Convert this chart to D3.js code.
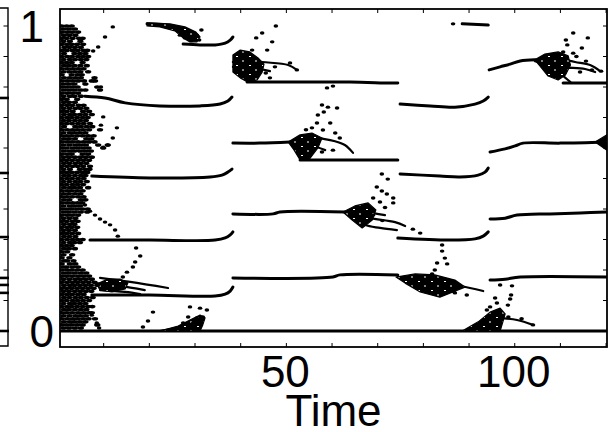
<!DOCTYPE html>
<html>
<head>
<meta charset="utf-8">
<script src="https://cdn.jsdelivr.net/npm/d3@7"></script>
<style>
  html, body { margin: 0; padding: 0; background: #fff; }
  svg { display: block; }
</style>
</head>
<body>
<svg id="chart" width="610" height="432"></svg>
<script>
// ---- axis definitions ----
const xTickValues = [10, 20, 30, 40, 50, 60, 70, 80, 90, 100, 110, 120];
const xTickLabels = [50, 100];
const yTickValues = [0, 0.1, 0.2, 0.3, 0.4, 0.5, 0.6, 0.7, 0.8, 0.9, 1.0];
const yTickLabels = [0, 1];
const xTitle = "Time";

// levels shown at the right edge of the neighbouring panel
const sideLevels = [0.764, 0.518, 0.308, 0.174, 0.151, 0.125, 0.0];

// ---- stable branches [time, value] ----
const branches = [
  [[0.6, 0.0], [120.2, 0.0]],
  // first epoch
  [[7.4, 0.118], [20.1, 0.118], [34.4, 0.115], [36.6, 0.121], [37.7, 0.131], [38.3, 0.144]],
  [[7.0, 0.298], [20.1, 0.298], [34.4, 0.298], [36.6, 0.305], [37.7, 0.315], [38.3, 0.325]],
  [[7.4, 0.508], [20.1, 0.502], [33.3, 0.505], [35.9, 0.511], [37.2, 0.521], [38.1, 0.531]],
  [[5.9, 0.770], [10.3, 0.764], [14.7, 0.748], [22.3, 0.738], [31.1, 0.738], [35.5, 0.744], [37.2, 0.754], [38.1, 0.767]],
  [[19.5, 1.007], [23.4, 1.003], [26.3, 0.993], [28.9, 0.977], [30.4, 0.964]],
  [[27.4, 0.941], [31.1, 0.938], [34.4, 0.938], [36.6, 0.944], [37.7, 0.954], [38.3, 0.964]],
  // second epoch
  [[41.4, 0.816], [53.0, 0.816], [63.9, 0.816], [72.7, 0.813], [74.4, 0.813]],
  [[38.3, 0.616], [44.2, 0.616], [50.8, 0.620]],
  [[53.0, 0.561], [63.9, 0.561], [74.4, 0.561]],
  [[38.3, 0.384], [47.1, 0.384], [48.6, 0.390], [62.8, 0.390]],
  [[38.3, 0.174], [60.2, 0.177], [61.7, 0.184], [74.4, 0.184]],
  // third epoch
  [[88.5, 1.007], [94.2, 1.003]],
  [[74.9, 0.744], [81.5, 0.738], [86.9, 0.734], [91.3, 0.744], [93.1, 0.754], [94.2, 0.767]],
  [[74.9, 0.515], [83.6, 0.508], [88.0, 0.505], [92.0, 0.511], [93.5, 0.521], [94.2, 0.534]],
  [[74.4, 0.305], [85.8, 0.298], [91.3, 0.302], [93.1, 0.311], [94.2, 0.325]],
  // fourth epoch
  [[94.4, 0.856], [96.8, 0.866], [99.0, 0.875], [101.2, 0.885], [104.4, 0.889]],
  [[110.6, 0.813], [120.2, 0.813]],
  [[94.6, 0.587], [97.9, 0.597], [100.1, 0.607], [101.8, 0.616], [110.0, 0.616], [120.2, 0.620]],
  [[94.6, 0.367], [97.9, 0.370], [100.5, 0.380], [107.7, 0.384], [114.3, 0.387], [120.2, 0.390]],
  [[94.6, 0.167], [97.9, 0.170], [101.2, 0.177], [120.2, 0.177]]
];

// ---- dense cores where a branch loses stability (outlines) ----
const clusterCores = [
  [[19.5, 1.010], [24.5, 1.007], [27.8, 0.997], [30.2, 0.980], [31.1, 0.964], [30.4, 0.948], [28.9, 0.948], [27.4, 0.961], [25.6, 0.984], [22.3, 0.997], [19.5, 1.000]],
  [[8.5, 0.154], [10.9, 0.170], [13.6, 0.170], [15.3, 0.157], [14.7, 0.138], [11.8, 0.128], [9.2, 0.134]],
  [[22.3, 0.0], [26.3, 0.016], [28.9, 0.036], [31.1, 0.052], [32.2, 0.043], [31.7, 0.020], [31.1, 0.0]],
  [[38.3, 0.905], [39.9, 0.921], [42.0, 0.915], [43.8, 0.895], [45.1, 0.875], [44.7, 0.849], [43.6, 0.823], [41.6, 0.816], [39.9, 0.830], [38.3, 0.849]],
  [[50.4, 0.620], [53.0, 0.643], [55.6, 0.649], [57.8, 0.633], [56.9, 0.600], [55.2, 0.567], [53.0, 0.561], [51.7, 0.593]],
  [[62.4, 0.390], [65.0, 0.410], [67.9, 0.420], [69.6, 0.397], [68.8, 0.364], [66.6, 0.338], [64.4, 0.364]],
  [[74.0, 0.177], [78.2, 0.187], [82.5, 0.184], [86.9, 0.167], [89.1, 0.144], [83.6, 0.111], [79.3, 0.128], [76.0, 0.157]],
  [[88.5, 0.0], [92.0, 0.030], [94.6, 0.062], [96.8, 0.075], [97.9, 0.056], [97.4, 0.030], [96.8, 0.0]],
  [[104.4, 0.889], [106.6, 0.908], [109.5, 0.915], [111.7, 0.902], [112.2, 0.872], [111.1, 0.839], [109.5, 0.823], [107.3, 0.836], [105.5, 0.869]],
  [[117.6, 0.620], [120.2, 0.643], [120.2, 0.593]]
];

// ---- splitting fans leaving the cores ----
const fans = [
  // first epoch
  [[9.2, 0.174], [15.8, 0.161], [24.1, 0.141]],
  [[8.1, 0.157], [13.6, 0.148], [19.0, 0.134]],
  [[9.2, 0.134], [14.7, 0.128], [18.0, 0.121]],
  [[22.3, 0.000], [26.7, 0.013], [30.0, 0.030], [31.7, 0.043]],
  // second epoch
  [[38.3, 0.882], [41.0, 0.889], [44.7, 0.882], [50.4, 0.872], [52.3, 0.856]],
  [[38.3, 0.866], [43.1, 0.862], [46.4, 0.852]],
  [[50.8, 0.620], [55.2, 0.633], [59.6, 0.626], [62.8, 0.610], [64.6, 0.584]],
  [[50.8, 0.617], [55.2, 0.610], [58.5, 0.593]],
  [[51.9, 0.610], [53.0, 0.577], [55.2, 0.561]],
  [[62.8, 0.390], [67.2, 0.390], [71.6, 0.380]],
  [[63.3, 0.387], [68.3, 0.370], [73.8, 0.357], [76.0, 0.344]],
  [[63.9, 0.384], [67.2, 0.348], [70.5, 0.338], [74.2, 0.331]],
  // third epoch
  [[74.4, 0.177], [79.3, 0.174], [83.6, 0.161], [90.2, 0.141], [93.1, 0.131]],
  [[74.9, 0.174], [79.3, 0.151], [83.6, 0.134], [86.9, 0.128]],
  [[96.1, 0.043], [100.5, 0.036], [104.0, 0.020]],
  // fourth epoch
  [[104.4, 0.889], [108.8, 0.895], [113.2, 0.882], [116.5, 0.872], [118.7, 0.852]],
  [[104.4, 0.885], [109.8, 0.866], [115.4, 0.859], [117.6, 0.849]],
  [[105.5, 0.882], [108.8, 0.856], [111.1, 0.830], [112.2, 0.816]]
];

// ---- isolated iterates [time, value] ----
const scatterPoints = [
  // first epoch
  [12.0, 0.997], [10.3, 0.964], [8.8, 0.931], [7.7, 0.918],
  [9.4, 0.800], [9.9, 0.702], [9.4, 0.675], [12.9, 0.666], [12.0, 0.633], [10.9, 0.610], [9.9, 0.603],
  [30.4, 0.970], [31.4, 0.987], [29.2, 0.952], [30.9, 0.954], [27.8, 0.961], [26.7, 0.970],
  [5.9, 0.413], [7.0, 0.393], [8.1, 0.380], [9.2, 0.367], [10.3, 0.357], [11.4, 0.348], [12.5, 0.331], [13.1, 0.311],
  [17.1, 0.272], [18.0, 0.246], [16.9, 0.226], [16.4, 0.210], [15.1, 0.193], [14.2, 0.177],
  [20.8, 0.062], [19.7, 0.033], [18.6, 0.013],
  [28.9, 0.079], [31.1, 0.075], [32.6, 0.069], [28.5, 0.046], [30.4, 0.043], [31.7, 0.046], [27.4, 0.026], [29.6, 0.026],
  [7.4, 0.052], [8.5, 0.026], [9.0, 0.010],
  // second epoch
  [47.7, 1.000], [44.7, 0.977], [43.4, 0.961], [46.9, 0.948], [45.8, 0.921], [42.5, 0.921],
  [45.5, 0.846], [42.5, 0.849], [46.4, 0.830], [52.3, 0.856], [50.8, 0.879], [47.5, 0.866],
  [58.9, 0.797], [60.2, 0.803],
  [57.8, 0.741], [59.1, 0.734], [61.1, 0.731], [56.9, 0.708], [58.2, 0.718], [56.7, 0.682], [59.6, 0.682],
  [55.6, 0.666], [58.0, 0.659], [60.7, 0.649], [54.3, 0.660], [61.7, 0.633],
  [57.8, 0.587], [60.2, 0.593],
  [70.9, 0.515], [72.2, 0.498], [69.8, 0.472], [70.9, 0.459], [72.0, 0.449], [73.4, 0.436], [69.0, 0.436],
  [70.5, 0.423], [73.4, 0.420], [71.6, 0.405], [69.0, 0.380], [71.0, 0.362],
  [77.7, 0.334], [79.3, 0.321],
  // third epoch
  [86.5, 1.007],
  [84.1, 0.282], [84.1, 0.262], [84.7, 0.239], [85.2, 0.220], [83.0, 0.223], [82.5, 0.200], [81.9, 0.187],
  [86.9, 0.125], [89.5, 0.118],
  [96.8, 0.151], [99.4, 0.148], [99.2, 0.118], [99.0, 0.105], [98.5, 0.085], [95.7, 0.108], [96.1, 0.092],
  [93.9, 0.069], [94.6, 0.079],
  [98.6, 0.046], [101.5, 0.040], [104.0, 0.020],
  // fourth epoch
  [112.8, 0.977], [111.2, 0.954], [116.0, 0.961], [114.7, 0.928], [111.5, 0.938], [110.6, 0.915], [112.8, 0.911],
  [116.9, 0.856], [118.9, 0.852], [114.3, 0.849], [113.5, 0.900], [115.6, 0.885]
];

// ---- initial transient: rows of [value, time, time, ...] ----
const transientRows = [
  [1.00, 0.8, 1.9, 3.0], [0.99, 1.2, 2.4, 3.7], [0.98, 0.8, 2.0, 3.1, 4.4], [0.97, 1.3, 2.5, 3.8],
  [0.96, 0.8, 1.9, 3.2, 4.6, 5.4], [0.95, 1.2, 2.6, 4.9], [0.94, 0.8, 2.0, 3.0, 4.2, 5.5],
  [0.93, 1.4, 2.5, 3.7, 5.0], [0.92, 0.8, 1.9, 3.2, 4.3, 5.6, 6.4], [0.91, 1.3, 3.6, 4.8, 6.0],
  [0.90, 0.8, 2.0, 3.1, 4.4, 5.5, 6.6], [0.89, 1.2, 2.6, 3.7, 5.0, 6.2], [0.88, 0.8, 1.9, 3.0, 5.4],
  [0.87, 1.3, 2.4, 3.6, 4.9, 6.3], [0.86, 0.8, 2.0, 3.2, 4.4, 5.6], [0.85, 1.2, 2.5, 3.7, 4.9, 6.6],
  [0.84, 0.8, 3.0, 4.3, 5.2], [0.83, 1.3, 2.6, 3.8, 5.0, 8.0], [0.82, 0.8, 2.0, 3.2, 4.4, 5.7, 7.4, 8.1],
  [0.81, 1.2, 2.4, 3.6, 6.0], [0.80, 0.8, 1.9, 3.1, 4.3, 8.6], [0.79, 1.3, 2.5, 3.7, 5.0, 6.0, 9.2],
  [0.78, 0.8, 2.0, 3.2, 4.4], [0.77, 1.2, 2.6, 3.6, 5.0], [0.76, 0.8, 1.9, 4.2], [0.75, 1.3, 2.4, 3.7],
  [0.74, 0.8, 2.0, 3.1, 4.5, 5.6], [0.73, 1.2, 2.5, 3.8, 4.9, 6.2], [0.72, 0.8, 1.9, 3.2, 5.5, 6.8],
  [0.71, 1.3, 2.6, 3.6, 4.8, 6.0, 7.4], [0.70, 0.8, 2.0, 3.0, 4.2, 5.4, 6.5], [0.69, 1.2, 2.4, 3.7, 4.9, 6.1],
  [0.68, 0.8, 1.9, 3.1, 4.4, 5.6, 7.0], [0.67, 1.3, 3.8, 5.0, 6.3, 7.5], [0.66, 0.8, 2.0, 3.2, 4.3, 5.5, 6.8, 9.2],
  [0.65, 1.2, 2.6, 3.6, 4.8, 6.0], [0.64, 0.8, 1.9, 3.0, 4.2, 5.4, 6.6, 7.8], [0.63, 1.3, 2.4, 3.7, 6.2, 7.3],
  [0.62, 0.8, 2.0, 3.1, 4.4, 5.6, 6.8, 8.0], [0.61, 1.2, 2.5, 3.8, 4.9, 6.1, 8.8, 10.9], [0.60, 0.8, 1.9, 3.2, 4.3, 5.5, 6.7, 9.9],
  [0.59, 1.3, 2.6, 3.6, 4.8, 6.0, 7.2], [0.58, 0.8, 2.0, 3.0, 5.4, 6.6], [0.57, 1.2, 2.4, 3.7, 4.9, 6.1, 7.4],
  [0.56, 0.8, 1.9, 3.1, 4.4, 5.6, 6.8], [0.55, 1.3, 2.5, 3.8, 5.0, 6.2], [0.54, 0.8, 2.0, 3.2, 4.3, 5.5, 7.0],
  [0.53, 1.2, 2.6, 4.8, 6.0, 6.9], [0.52, 0.8, 1.9, 3.0, 4.2, 5.4, 6.4], [0.51, 1.3, 2.4, 3.7, 5.0, 6.0],
  [0.50, 0.8, 2.0, 3.1, 4.4, 5.6], [0.49, 1.2, 2.5, 3.8, 4.9, 6.3], [0.48, 0.8, 1.9, 3.2, 4.3, 5.5],
  [0.47, 1.3, 2.6, 3.6, 4.8, 6.6], [0.46, 0.8, 2.0, 3.0, 4.2, 5.4], [0.45, 1.2, 2.4, 3.7, 4.9],
  [0.44, 0.8, 1.9, 3.1, 4.4, 5.6], [0.43, 1.3, 2.5, 5.0, 6.0], [0.42, 0.8, 2.0, 3.2, 4.3, 5.3],
  [0.41, 1.2, 2.6, 3.6, 4.8], [0.40, 0.8, 1.9, 3.0, 4.2, 5.4, 6.5], [0.39, 1.3, 2.4, 3.7, 5.0, 6.4],
  [0.38, 0.8, 2.0, 3.1, 4.4], [0.37, 1.2, 2.5, 3.8], [0.36, 0.8, 1.9, 3.2, 4.3], [0.35, 1.3, 2.6, 3.6],
  [0.34, 0.8, 2.0, 3.0, 4.2], [0.33, 1.2, 2.4, 3.7], [0.32, 0.8, 1.9, 3.1, 4.4], [0.31, 1.3, 2.5, 3.8],
  [0.30, 0.8, 2.0, 3.2, 4.3, 5.4], [0.29, 1.2, 2.6, 3.6, 4.8], [0.28, 0.8, 1.9, 3.0], [0.27, 1.3, 2.4, 3.7],
  [0.26, 0.8, 2.0], [0.25, 1.2, 3.1], [0.24, 0.8, 2.5], [0.23, 1.3, 2.0, 3.4], [0.22, 0.8, 2.6, 3.8],
  [0.21, 1.2, 1.9, 3.2, 4.4], [0.20, 0.8, 2.0, 3.0, 4.2, 5.4], [0.19, 1.3, 2.4, 3.7, 5.0, 6.2],
  [0.18, 0.8, 1.9, 3.1, 4.4, 5.6, 6.8], [0.17, 1.2, 2.5, 3.8, 4.9, 6.1, 7.4], [0.16, 0.8, 2.0, 3.2, 4.3, 5.5, 6.7, 8.0],
  [0.15, 1.3, 2.6, 3.6, 4.8, 6.0, 7.2, 8.6], [0.14, 0.8, 1.9, 3.0, 4.2, 5.4, 6.6, 7.8], [0.13, 1.2, 2.4, 3.7, 4.9, 6.1, 7.3],
  [0.12, 0.8, 2.0, 3.1, 4.4, 5.6], [0.11, 1.3, 2.5, 3.8, 5.0, 6.3, 7.6], [0.10, 0.8, 1.9, 3.2, 4.3, 5.5, 6.8],
  [0.09, 1.2, 2.6, 3.6, 4.8, 6.0], [0.08, 0.8, 2.0, 3.0, 4.2, 5.4, 6.6, 7.5], [0.07, 1.3, 2.4, 3.7, 5.0, 6.2],
  [0.06, 0.8, 1.9, 3.1, 4.4, 5.6, 6.8, 7.4], [0.05, 1.2, 2.5, 3.8, 4.9, 6.1], [0.04, 0.8, 2.0, 3.2, 4.3, 5.5, 6.7, 8.1],
  [0.03, 1.3, 2.6, 3.6, 4.8, 6.0], [0.02, 0.8, 1.9, 3.0, 4.2, 5.4, 8.6], [0.01, 1.2, 2.4, 3.7, 5.0]
];

// ---- layout ----
const frame = { left: 60, right: 607, top: 9, bottom: 347 };
const font = "'Liberation Sans', Arial, Helvetica, sans-serif";
const fontSize = 44;

const svg = d3.select("#chart");
const defs = svg.append("defs");

// dense fill for the cores: black with sparse light flecks
const speckle = defs.append("pattern")
  .attr("id", "speckle").attr("patternUnits", "userSpaceOnUse")
  .attr("width", 13).attr("height", 9);
speckle.append("rect").attr("width", 13).attr("height", 9).attr("fill", "#000");
speckle.append("rect").attr("x", 2).attr("y", 2).attr("width", 2).attr("height", 1).attr("fill", "#fff");
speckle.append("rect").attr("x", 8).attr("y", 6.5).attr("width", 2).attr("height", 1).attr("fill", "#fff");

const x = d3.scaleLinear().domain([0.44, 120.2]).range([frame.left, frame.right]);
const y = d3.scaleLinear().domain([0, 1]).range([331, 26]);

// neighbouring panel edge (its right border and ticks)
const side = svg.append("g").attr("class", "side-panel");
side.append("path")
  .attr("d", "M0,8H8V346H0")
  .attr("fill", "none").attr("stroke", "#000").attr("stroke-width", 1.4);
side.selectAll("line.tick").data(yTickValues).join("line")
  .attr("class", "tick")
  .attr("x1", 3.5).attr("x2", 8)
  .attr("y1", d => y(d)).attr("y2", d => y(d))
  .attr("stroke", "#000").attr("stroke-width", 1);
side.selectAll("line.level").data(sideLevels).join("line")
  .attr("class", "level")
  .attr("x1", 0).attr("x2", 9)
  .attr("y1", d => y(d)).attr("y2", d => y(d))
  .attr("stroke", "#000").attr("stroke-width", 2.6);

// clip plot marks to the frame
defs.append("clipPath").attr("id", "plot-clip")
  .append("rect")
  .attr("x", frame.left).attr("y", frame.top)
  .attr("width", frame.right - frame.left).attr("height", frame.bottom - frame.top);

const plot = svg.append("g").attr("clip-path", "url(#plot-clip)");

const line = d3.line()
  .x(d => x(d[0])).y(d => y(d[1]))
  .curve(d3.curveCatmullRom.alpha(0.5));

const outline = d3.line()
  .x(d => x(d[0])).y(d => y(d[1]))
  .curve(d3.curveLinearClosed);

plot.append("g").selectAll("path").data(branches).join("path")
  .attr("d", line)
  .attr("fill", "none").attr("stroke", "#000")
  .attr("stroke-width", 3).attr("stroke-linecap", "round").attr("stroke-linejoin", "round");

plot.append("g").selectAll("path").data(fans).join("path")
  .attr("d", line)
  .attr("fill", "none").attr("stroke", "#000")
  .attr("stroke-width", 2.2).attr("stroke-linecap", "round").attr("stroke-linejoin", "round");

plot.append("g").selectAll("path").data(clusterCores).join("path")
  .attr("d", outline)
  .attr("fill", "url(#speckle)").attr("stroke", "#000").attr("stroke-width", 1.2)
  .attr("stroke-linejoin", "round");

const transientPoints = [];
transientRows.forEach(([v, ...ts]) => ts.forEach(t => transientPoints.push([t, v])));

plot.append("g").selectAll("ellipse").data(transientPoints).join("ellipse")
  .attr("cx", d => x(d[0])).attr("cy", d => y(d[1]))
  .attr("rx", 3.2).attr("ry", 1.8)
  .attr("fill", "#000");

plot.append("g").selectAll("ellipse").data(scatterPoints).join("ellipse")
  .attr("cx", d => x(d[0])).attr("cy", d => y(d[1]))
  .attr("rx", 2.3).attr("ry", 1.7)
  .attr("fill", "#000");

// frame
svg.append("rect")
  .attr("x", frame.left).attr("y", frame.top)
  .attr("width", frame.right - frame.left).attr("height", frame.bottom - frame.top)
  .attr("fill", "none").attr("stroke", "#000").attr("stroke-width", 1.8);

// inward ticks
const ticks = svg.append("g").attr("stroke", "#000").attr("stroke-width", 1);
ticks.selectAll("line.xb").data(xTickValues).join("line").attr("class", "xb")
  .attr("x1", d => x(d)).attr("x2", d => x(d))
  .attr("y1", frame.bottom).attr("y2", frame.bottom - 4);
ticks.selectAll("line.xt").data(xTickValues).join("line").attr("class", "xt")
  .attr("x1", d => x(d)).attr("x2", d => x(d))
  .attr("y1", frame.top).attr("y2", frame.top + 4);
ticks.selectAll("line.yl").data(yTickValues).join("line").attr("class", "yl")
  .attr("x1", frame.left).attr("x2", frame.left + 4)
  .attr("y1", d => y(d)).attr("y2", d => y(d));
ticks.selectAll("line.yr").data(yTickValues).join("line").attr("class", "yr")
  .attr("x1", frame.right).attr("x2", frame.right - 4)
  .attr("y1", d => y(d)).attr("y2", d => y(d));

// tick labels
svg.append("g").selectAll("text").data(xTickLabels).join("text")
  .attr("x", d => x(d) - 1).attr("y", 387)
  .attr("text-anchor", "middle")
  .attr("font-family", font).attr("font-size", fontSize)
  .text(d => d);

const yLabelRight = { 0: 54, 1: 44 };
svg.append("g").selectAll("text").data(yTickLabels).join("text")
  .attr("x", d => yLabelRight[d]).attr("y", d => y(d) + 16)
  .attr("text-anchor", "end")
  .attr("font-family", font).attr("font-size", fontSize)
  .text(d => d);

svg.append("text")
  .attr("x", (frame.left + frame.right) / 2).attr("y", 426)
  .attr("text-anchor", "middle")
  .attr("font-family", font).attr("font-size", fontSize)
  .text(xTitle);
</script>
</body>
</html>
